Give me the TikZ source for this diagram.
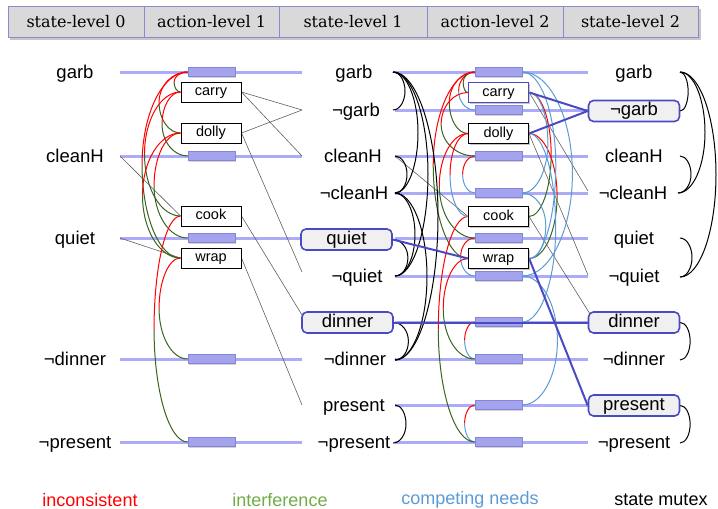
\documentclass[tikz,border=0pt]{standalone}
\usepackage{fontspec}
\setmainfont{Liberation Sans}
\newfontfamily\hdrfont{DejaVu Serif}
\usetikzlibrary{calc,shadows}

\definecolor{lvl}{HTML}{ABABF7}
\definecolor{noopfill}{HTML}{A3A3EE}
\definecolor{noopdraw}{HTML}{8585D6}
\definecolor{hl}{HTML}{4A4AC2}
\definecolor{mxred}{HTML}{FF0000}
\definecolor{mxgreen}{HTML}{3B6322}
\definecolor{mxblue}{HTML}{5B9BD5}
\definecolor{lgreen}{HTML}{70AD47}
\definecolor{hdrfill}{HTML}{D9D9D9}
\definecolor{hdrdraw}{HTML}{8A8AD0}
\definecolor{linkgray}{HTML}{606060}

% mutex arc: first half in #1, second half in #2, from #3 to #4,
% bulging sideways by #5 (negative = to the left)
\newcommand{\mxarc}[5]{%
  \coordinate (arcmid) at ($(#3)!.5!(#4)+(#5,0)$);
  \draw[#1] (#3) .. controls ($(#3)!.55!(#3 -| arcmid)$) and ($(arcmid)!.55!(#3 -| arcmid)$) .. (arcmid);
  \draw[#2] (arcmid) .. controls ($(arcmid)!.55!(#4 -| arcmid)$) and ($(#4)!.55!(#4 -| arcmid)$) .. (#4);
}

\begin{document}
\begin{tikzpicture}[x=1pt,y=-1pt,
  hdr/.style={draw=hdrdraw, line width=0.8pt, fill=hdrfill, minimum height=31pt,
    inner sep=0pt, font=\hdrfont\fontsize{16}{18}\selectfont},
  lbl/.style={inner sep=0pt, text height=13pt, text depth=4pt,
    font=\fontsize{18.5}{20}\selectfont},
  statebox/.style={lbl, draw=hl, line width=1.6pt, fill=gray!12,
    rounded corners=5pt, minimum width=91pt, minimum height=21pt},
  act/.style={draw=black, line width=1pt, fill=white, minimum width=60pt,
    minimum height=20pt, inner sep=0pt, text height=10.5pt, text depth=3pt,
    font=\fontsize{14.5}{16}\selectfont,
    drop shadow={shadow xshift=1pt, shadow yshift=-1pt, opacity=.25}},
  noop/.style={draw=noopdraw, line width=0.8pt, fill=noopfill, minimum width=47pt,
    minimum height=9pt, inner sep=0pt,
    drop shadow={shadow xshift=1.2pt, shadow yshift=-1.2pt, opacity=.35}},
  lvlline/.style={draw=lvl, line width=3pt},
  link/.style={draw=linkgray, line width=0.6pt},
  hilink/.style={draw=hl, line width=2pt},
  r/.style={draw=mxred, line width=1pt},
  g/.style={draw=mxgreen, line width=1pt},
  b/.style={draw=mxblue, line width=1pt},
  k/.style={draw=black, line width=1pt},
  legend/.style={inner sep=0pt, font=\fontsize{18}{20}\selectfont}
]
\useasboundingbox (0,0) rectangle (718,509);

% ---------- column headers ----------
\fill[black, opacity=.22] (10,8.5) rectangle (700.5,39.5);
\node[hdr, minimum width=136pt] (h0) at (76,21.5) {state-level 0};
\node[hdr, minimum width=135pt] (h1) at (211.5,21.5) {action-level 1};
\node[hdr, minimum width=148pt] (h2) at (353,21.5) {state-level 1};
\node[hdr, minimum width=136pt] (h3) at (495,21.5) {action-level 2};
\node[hdr, minimum width=135pt] (h4) at (630.5,21.5) {state-level 2};

% ---------- level lines ----------
\foreach \y in {72,156,238,359,442} \draw[lvlline] (120,\y) -- (302,\y);
\foreach \y in {72,110,156,193,238,276,322,359,405,442} \draw[lvlline] (395,\y) -- (588,\y);

% ---------- state level 0 ----------
\node[lbl] (s0garb) at (75,74) {garb};
\node[lbl] (s0clean) at (75,158) {cleanH};
\node[lbl] (s0quiet) at (75,240) {quiet};
\node[lbl] (s0ndin) at (75,361) {¬dinner};
\node[lbl] (s0npres) at (75,444) {¬present};
\coordinate (p0clean) at (120,156);
\coordinate (p0quiet) at (120,238);

% ---------- state level 1 ----------
\node[lbl] (s1garb) at (354,74) {garb};
\node[lbl] (s1ngarb) at (356,112) {¬garb};
\node[lbl] (s1clean) at (353,158) {cleanH};
\node[lbl] (s1nclean) at (354,195) {¬cleanH};
\node[statebox] (s1quiet) at (346.5,239.5) {quiet};
\node[lbl] (s1nquiet) at (357,278) {¬quiet};
\node[statebox] (s1din) at (347.5,322.5) {dinner};
\node[lbl] (s1ndin) at (355,361) {¬dinner};
\node[lbl] (s1pres) at (354,407) {present};
\node[lbl] (s1npres) at (354,444) {¬present};

\coordinate (e1ngarb) at (302,110);
\coordinate (e1clean) at (302,156);
\coordinate (e1nquiet) at (302,272);
\coordinate (e1din) at (302,315);
\coordinate (e1pres) at (302,405);
\coordinate (p1clean) at (395,156);

\coordinate (m1garb) at (393,72);
\coordinate (m1ngarb) at (393,110);
\coordinate (m1clean) at (395,156);
\coordinate (m1nclean) at (395,193);
\coordinate (m1nquiet) at (395,276);
\coordinate (m1ndin) at (395,360);
\coordinate (m1pres) at (395,405);
\coordinate (m1npres) at (393,443);

% ---------- state level 2 ----------
\node[lbl] (s2garb) at (634,74) {garb};
\node[statebox] (s2ngarb) at (634,111) {¬garb};
\node[lbl] (s2clean) at (634,158) {cleanH};
\node[lbl] (s2nclean) at (633,195) {¬cleanH};
\node[lbl] (s2quiet) at (634,240) {quiet};
\node[lbl] (s2nquiet) at (634,278) {¬quiet};
\node[statebox] (s2din) at (634,322.5) {dinner};
\node[lbl] (s2ndin) at (634,361) {¬dinner};
\node[statebox] (s2pres) at (634,405.5) {present};
\node[lbl] (s2npres) at (634,444) {¬present};

\coordinate (e2nclean) at (588,191);
\coordinate (e2nquiet) at (588,275);
\coordinate (e2din) at (590,314);

\coordinate (m2garb) at (680,72);
\coordinate (m2clean) at (680,156);
\coordinate (m2nclean) at (678,193);
\coordinate (m2quiet) at (680,238);
\coordinate (m2nquiet) at (680,277);
\coordinate (m2ndin) at (680,360);
\coordinate (m2npres) at (680,443);

% ---------- no-op bars ----------
\foreach \n/\y in {garb/72,clean/156,quiet/238,ndin/359,npres/442}
  \node[noop] (n1\n) at (211.5,\y) {};
\foreach \n/\y in {garb/72,ngarb/110,clean/156,nclean/193,quiet/238,nquiet/276,din/322,ndin/359,pres/405,npres/442}
  \node[noop] (n2\n) at (498.5,\y) {};

% ---------- actions ----------
\node[act] (a1carry) at (211,92) {carry};
\node[act] (a1dolly) at (211,133) {dolly};
\node[act] (a1cook) at (211,216) {cook};
\node[act] (a1wrap) at (211,258) {wrap};

\node[act, draw=hl, line width=1.6pt] (a2carry) at (498.5,92.5) {carry};
\node[act] (a2dolly) at (498.5,133.5) {dolly};
\node[act] (a2cook) at (498.5,216.5) {cook};
\node[act, line width=1.3pt] (a2wrap) at (498.5,258.5) {wrap};

% ---------- preconditions and effects ----------
\draw[link] (p0clean) -- (a1cook.west);
\draw[link] (p0quiet) -- (a1wrap.west);
\draw[link] (a1carry.east) -- (e1ngarb);
\draw[link] (a1carry.east) -- (e1clean);
\draw[link] (a1dolly.east) -- (e1ngarb);
\draw[link] (a1dolly.east) -- (e1nquiet);
\draw[link] (a1cook.east) -- (e1din);
\draw[link] (a1wrap.east) -- (e1pres);

\draw[link] (p1clean) -- (a2cook.west);
\draw[link] (a2carry.east) -- (e2nclean);
\draw[link] (a2dolly.east) -- (e2nquiet);
\draw[link] (a2cook.east) -- (e2din);

% ---------- action mutexes, level 1 ----------
\mxarc{r}{g}{n1garb.west}{a1carry.west}{-10}
\mxarc{r}{g}{n1garb.west}{a1dolly.west}{-25}
\mxarc{r}{g}{n1garb.west}{a1wrap.west}{-42}
\mxarc{r}{g}{a1carry.west}{n1clean.west}{-22}
\mxarc{r}{g}{a1carry.west}{a1cook.west}{-36}
\mxarc{r}{g}{a1dolly.west}{n1quiet.west}{-30}
\mxarc{r}{g}{a1dolly.west}{a1wrap.west}{-38}
\mxarc{r}{g}{a1cook.west}{n1npres.west}{-30}
\mxarc{r}{g}{a1wrap.west}{n1ndin.west}{-25}

% ---------- action mutexes, level 2 (left) ----------
\mxarc{r}{b}{n2garb.west}{n2ngarb.west}{-16}
\mxarc{g}{g}{n2garb.west}{a2carry.west}{-8}
\mxarc{r}{b}{n2clean.west}{n2nclean.west}{-12}
\mxarc{r}{b}{n2quiet.west}{n2nquiet.west}{-14}
\mxarc{r}{b}{n2din.west}{n2ndin.west}{-10}
\mxarc{r}{b}{n2pres.west}{n2npres.west}{-10}
\mxarc{r}{g}{n2garb.west}{a2dolly.west}{-22}
\mxarc{r}{g}{a2carry.west}{n2clean.west}{-30}
\mxarc{r}{g}{a2dolly.west}{n2quiet.west}{-32}
\mxarc{r}{g}{n2garb.west}{a2wrap.west}{-38}
\mxarc{r}{g}{a2cook.west}{n2npres.west}{-33}
\mxarc{r}{g}{a2wrap.west}{n2ndin.west}{-28}
\mxarc{r}{b}{a2dolly.west}{a2cook.west}{-18}

% ---------- action mutexes, level 2 (right) ----------
\mxarc{r}{g}{a2carry.east}{a2cook.east}{22}
\mxarc{r}{g}{a2dolly.east}{a2wrap.east}{28}
\mxarc{b}{b}{n2garb.east}{a2wrap.east}{30}
\mxarc{b}{b}{n2garb.east}{n2nquiet.east}{50}
\mxarc{b}{b}{n2nclean.east}{a2carry.east}{22}
\mxarc{b}{b}{n2nclean.east}{a2wrap.east}{20}
\mxarc{b}{b}{n2din.east}{a2dolly.east}{30}
\mxarc{b}{b}{n2nquiet.east}{n2pres.east}{35}

% ---------- state mutexes ----------
\mxarc{k}{k}{m1garb}{m1ngarb}{12}
\mxarc{k}{k}{m1clean}{m1nclean}{12}
\mxarc{k}{k}{s1quiet.east}{m1nquiet}{14}
\mxarc{k}{k}{s1din.east}{m1ndin}{14}
\mxarc{k}{k}{m1pres}{m1npres}{12}
\mxarc{k}{k}{m1garb}{m1nclean}{24}
\mxarc{k}{k}{m1garb}{m1nquiet}{34}
\mxarc{k}{k}{m1garb}{m1ndin}{44}
\mxarc{k}{k}{m1nclean}{m1nquiet}{20}
\mxarc{k}{k}{m1nclean}{m1ndin}{32}

\mxarc{k}{k}{m2garb}{s2ngarb.east}{8}
\mxarc{k}{k}{m2clean}{m2nclean}{12}
\mxarc{k}{k}{m2quiet}{m2nquiet}{12}
\mxarc{k}{k}{s2din.east}{m2ndin}{10}
\mxarc{k}{k}{s2pres.east}{m2npres}{10}
\mxarc{k}{k}{m2garb}{m2nclean}{26}
\mxarc{k}{k}{m2garb}{m2nquiet}{36}

% ---------- highlighted plan links ----------
\draw[hilink] (s1quiet.east) -- (a2wrap.west);
\draw[hilink] (s1din.east) -- (s2din.west);
\draw[hilink] (a2carry.east) -- (s2ngarb.west);
\draw[hilink] (a2dolly.east) -- (s2ngarb.west);
\draw[hilink] (a2wrap.east) -- (s2pres.west);

% redraw actions on top of the arcs and links
\node[act] at (a1carry) {carry};
\node[act] at (a1dolly) {dolly};
\node[act] at (a1cook) {cook};
\node[act] at (a1wrap) {wrap};
\node[act, draw=hl, line width=1.6pt] at (a2carry) {carry};
\node[act] at (a2dolly) {dolly};
\node[act] at (a2cook) {cook};
\node[act, line width=1.3pt] at (a2wrap) {wrap};

% ---------- legend ----------
\node[legend, text=mxred] (lg1) at (90,500) {inconsistent};
\node[legend, text=lgreen] (lg2) at (280,500) {interference};
\node[legend, text=mxblue] (lg3) at (470,500) {competing needs};
\node[legend] (lg4) at (661,500) {state mutex};
\end{tikzpicture}
\end{document}
